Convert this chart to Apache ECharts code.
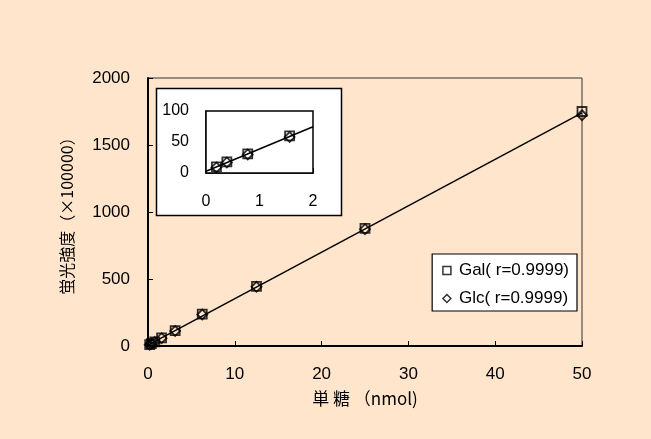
<!DOCTYPE html>
<html>
<head>
<meta charset="utf-8">
<script src="https://cdn.jsdelivr.net/npm/echarts@6/dist/echarts.min.js"></script>
<style>
html,body{margin:0;padding:0;background:#FFE5CC;}
#c{width:651px;height:439px;}
</style>
</head>
<body>
<div id="c"></div>
<script>
// ---- data ----
var amounts = [0.195, 0.39, 0.78, 1.5625, 3.125, 6.25, 12.5, 25, 50];
var galValues = [10, 18, 31, 60, 115, 238, 445, 878, 1750];
var glcValues = [9, 17, 30, 58, 112, 235, 442, 872, 1722];
var galName = 'Gal( r=0.9999)';
var glcName = 'Glc( r=0.9999)';
var mainXTicks = [0, 10, 20, 30, 40, 50];
var mainYTicks = [0, 500, 1000, 1500, 2000];
var insetXMax = 2;
var insetYMax = 100;
var xTitle = '単 糖 （nmol)';
var yTitle = '蛍光強度（×100000）';

function pairs(xs, ys, maxX) {
  var out = [];
  for (var i = 0; i < xs.length; i++) if (maxX == null || xs[i] <= maxX) out.push([xs[i], ys[i]]);
  return out;
}
function fit(maxX) {
  var xs = [], ys = [];
  for (var i = 0; i < amounts.length; i++) {
    if (maxX != null && amounts[i] > maxX) continue;
    xs.push(amounts[i]); ys.push(galValues[i]);
    xs.push(amounts[i]); ys.push(glcValues[i]);
  }
  var n = xs.length, sx = 0, sy = 0, sxx = 0, sxy = 0;
  for (var j = 0; j < n; j++) { sx += xs[j]; sy += ys[j]; sxx += xs[j]*xs[j]; sxy += xs[j]*ys[j]; }
  var m = (n*sxy - sx*sy) / (n*sxx - sx*sx);
  var b = (sy - m*sx) / n;
  return {m: m, b: b};
}
var fMain = fit(null);
var fIn = fit(insetXMax);
var mainLine = [[0, fMain.b], [50, fMain.m*50 + fMain.b]];
var insetLine = [[0, fIn.b], [insetXMax, fIn.m*insetXMax + fIn.b]];

var numFont = '"Liberation Sans", Arial, sans-serif';
var cjkFont = '"Noto Sans CJK JP", "Liberation Sans", sans-serif';
function plain(v) { return String(v); }
var lbl = {color: '#000', fontSize: 17, fontFamily: numFont, formatter: plain};
var lblIn = {color: '#000', fontSize: 16, fontFamily: numFont, formatter: plain};

var chart = echarts.init(document.getElementById('c'));
chart.setOption({
  backgroundColor: '#FFE5CC',
  animation: false,
  graphic: [{
    type: 'rect', z: -10,
    shape: {x: 156.5, y: 88.5, width: 185, height: 127},
    style: {fill: '#fff', stroke: '#000', lineWidth: 1.5}
  }],
  legend: {
    orient: 'vertical',
    right: 74, top: 254,
    backgroundColor: '#fff',
    borderColor: '#000', borderWidth: 1.2,
    padding: [8, 8, 4, 10],
    itemGap: 11,
    itemWidth: 8, itemHeight: 8,
    textStyle: {color: '#000', fontSize: 17, fontFamily: numFont, padding: [0, 0, 0, 3]},
    data: [
      {name: galName, icon: 'rect', itemStyle: {color: '#fff', borderColor: '#000', borderWidth: 1.5}},
      {name: glcName, icon: 'diamond', itemStyle: {color: '#fff', borderColor: '#000', borderWidth: 1.5}}
    ]
  },
  grid: [
    {left: 148, top: 78, width: 434, height: 268, show: true, borderColor: '#333', borderWidth: 1, backgroundColor: 'transparent'},
    {left: 206, top: 111, width: 107, height: 62, show: true, borderColor: '#000', borderWidth: 1.5, backgroundColor: '#fff', z: 1}
  ],
  xAxis: [
    {gridIndex: 0, type: 'value', min: 0, max: 50, interval: 10,
     axisLine: {show: true, lineStyle: {color: '#000', width: 2}},
     axisTick: {show: true, inside: true, length: 5, lineStyle: {color: '#000'}},
     axisLabel: Object.assign({margin: 20}, lbl),
     splitLine: {show: false},
     name: xTitle, nameLocation: 'middle', nameGap: 44,
     nameTextStyle: {color: '#000', fontSize: 17, fontFamily: cjkFont}},
    {gridIndex: 1, type: 'value', min: 0, max: insetXMax, interval: 1,
     axisLine: {show: true, lineStyle: {color: '#000', width: 1.5}},
     axisTick: {show: true, inside: true, length: 5, lineStyle: {color: '#000'}},
     axisLabel: Object.assign({margin: 21}, lblIn),
     splitLine: {show: false}}
  ],
  yAxis: [
    {gridIndex: 0, type: 'value', min: 0, max: 2000, interval: 500,
     axisLine: {show: true, lineStyle: {color: '#000', width: 2}},
     axisTick: {show: true, inside: true, length: 5, lineStyle: {color: '#000'}},
     axisLabel: Object.assign({margin: 18}, lbl),
     splitLine: {show: false},
     name: yTitle, nameLocation: 'middle', nameGap: 73, nameRotate: 90,
     nameTextStyle: {color: '#000', fontSize: 16, fontFamily: cjkFont}},
    {gridIndex: 1, type: 'value', min: 0, max: insetYMax, interval: 50,
     axisLine: {show: true, lineStyle: {color: '#000', width: 1.5}},
     axisTick: {show: true, inside: true, length: 5, lineStyle: {color: '#000'}},
     axisLabel: Object.assign({margin: 17}, lblIn),
     splitLine: {show: false}}
  ],
  series: [
    {type: 'line', xAxisIndex: 0, yAxisIndex: 0, data: mainLine, showSymbol: false, symbol: 'none',
     lineStyle: {color: '#000', width: 1.5}, silent: true, z: 1},
    {type: 'line', xAxisIndex: 1, yAxisIndex: 1, data: insetLine, showSymbol: false, symbol: 'none',
     lineStyle: {color: '#000', width: 1.5}, silent: true, z: 3},
    {name: galName, type: 'scatter', xAxisIndex: 0, yAxisIndex: 0, data: pairs(amounts, galValues),
     symbol: 'rect', symbolSize: 9, itemStyle: {color: 'rgba(255,255,255,0)', borderColor: '#000', borderWidth: 1.8}, z: 4},
    {name: glcName, type: 'scatter', xAxisIndex: 0, yAxisIndex: 0, data: pairs(amounts, glcValues),
     symbol: 'diamond', symbolSize: 10, itemStyle: {color: 'rgba(255,255,255,0)', borderColor: '#000', borderWidth: 1.8}, z: 4},
    {name: galName, type: 'scatter', xAxisIndex: 1, yAxisIndex: 1, data: pairs(amounts, galValues, insetXMax),
     symbol: 'rect', symbolSize: 9, itemStyle: {color: 'rgba(255,255,255,0)', borderColor: '#000', borderWidth: 1.8}, z: 4},
    {name: glcName, type: 'scatter', xAxisIndex: 1, yAxisIndex: 1, data: pairs(amounts, glcValues, insetXMax),
     symbol: 'diamond', symbolSize: 10, itemStyle: {color: 'rgba(255,255,255,0)', borderColor: '#000', borderWidth: 1.8}, z: 4}
  ]
});
</script>
</body>
</html>
